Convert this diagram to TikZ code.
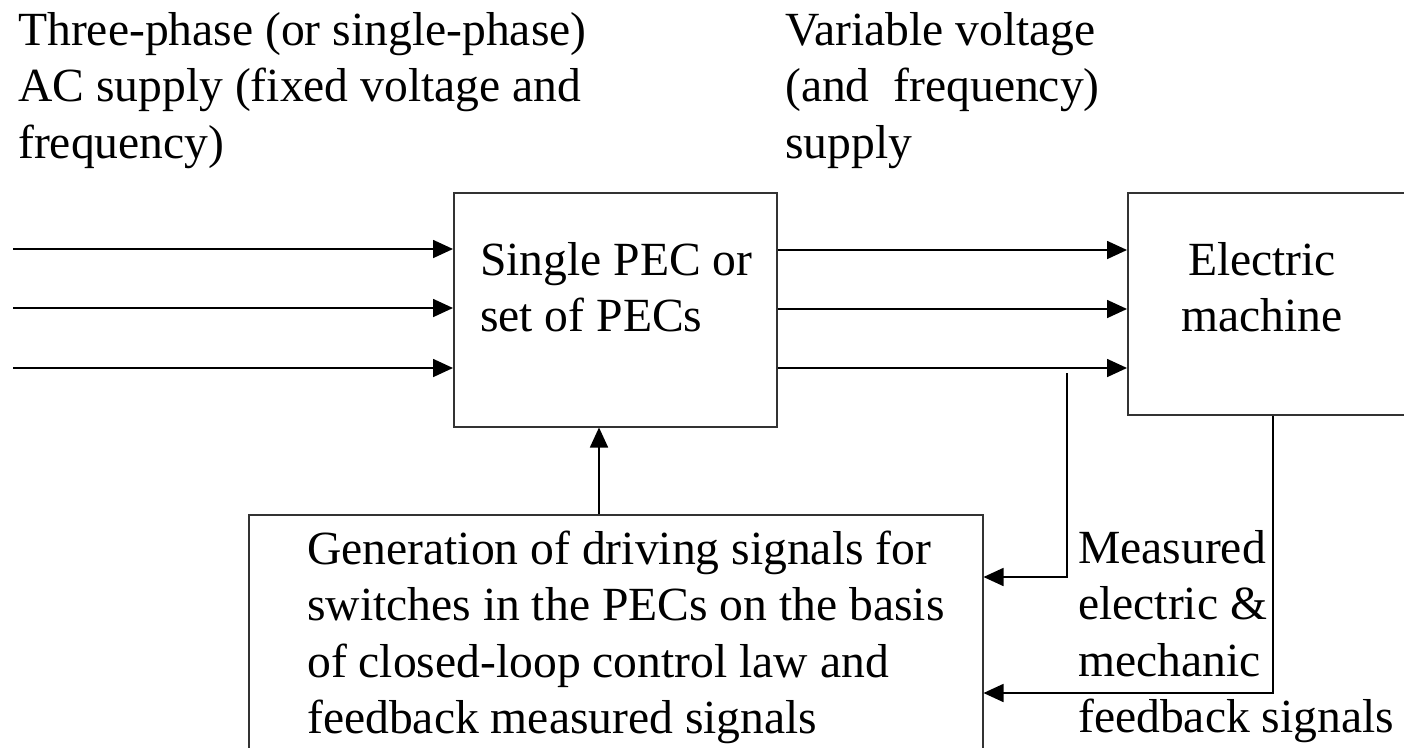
\documentclass[tikz,border=0pt]{standalone}
\usepackage{fontspec}
\setmainfont{Liberation Serif}
\usetikzlibrary{arrows.meta}
\newcommand{\txtlines}[1]{\begin{tabular}[t]{@{}l@{}}#1\end{tabular}}
\newcommand{\txtlinesc}[1]{\begin{tabular}[t]{@{}c@{}}#1\end{tabular}}
\begin{document}
\begin{tikzpicture}[x=1pt,y=-1pt,
  boxst/.style={draw=black!80, line width=1.5pt, inner sep=0pt, anchor=north west},
  arr/.style={draw=black, line width=1.7pt, -{Triangle[length=20pt,width=18pt]}},
  lbl/.style={inner sep=0pt, anchor=base west, font=\fontsize{47.6}{56.5}\selectfont},
  lblc/.style={inner sep=0pt, anchor=base, font=\fontsize{47.6}{56.5}\selectfont}]
\useasboundingbox (0,0) rectangle (1404,747);
\clip (0,0) rectangle (1404,747);
% boxes
\node[boxst, minimum width=323pt, minimum height=234pt] (pec) at (453,192) {};
\node[boxst, minimum width=290pt, minimum height=222pt] (em) at (1127,192) {};
\node[boxst, minimum width=734pt, minimum height=245pt] (gen) at (248,514) {};
% texts
\node[lbl] (t1) at (18,45) {\txtlines{Three-phase (or single-phase)\\AC supply (fixed voltage and\\frequency)}};
\node[lbl] (t2) at (785,45) {\txtlines{Variable voltage\\(and \ frequency)\\supply}};
\node[lbl] (t3) at (480,275) {\txtlines{Single PEC or\\set of PECs}};
\node[lblc] (t4) at (1262,275) {\txtlinesc{Electric\\machine}};
\node[lbl] (t5) at (307,564) {\txtlines{Generation of driving signals for\\switches in the PECs on the basis\\of closed-loop control law and\\feedback measured signals}};
\node[lbl] (t6) at (1078,563) {\txtlines{Measured\\electric \&\\mechanic\\feedback signals}};
% input arrows
\coordinate (in1) at (13,249);
\coordinate (in2) at (13,308);
\coordinate (in3) at (13,368);
\draw[arr] (in1) -- (in1 -| pec.west);
\draw[arr] (in2) -- (in2 -| pec.west);
\draw[arr] (in3) -- (in3 -| pec.west);
% output arrows
\coordinate (o1) at (pec.east |- 0,250);
\coordinate (o2) at (pec.east |- 0,309);
\coordinate (o3) at (pec.east |- 0,368);
\draw[arr] (o1) -- (o1 -| em.west);
\draw[arr] (o2) -- (o2 -| em.west);
\draw[arr] (o3) -- (o3 -| em.west);
% feedback
\coordinate (fb1) at (1067,373);
\draw[arr] (fb1) |- (gen.east |- 0,577);
\coordinate (fb2) at (em.south -| 1273,0);
\draw[arr] (fb2) |- (gen.east |- 0,693);
% control arrow
\draw[arr] (gen.north -| 599,0) -- (pec.south -| 599,0);
\end{tikzpicture}
\end{document}
